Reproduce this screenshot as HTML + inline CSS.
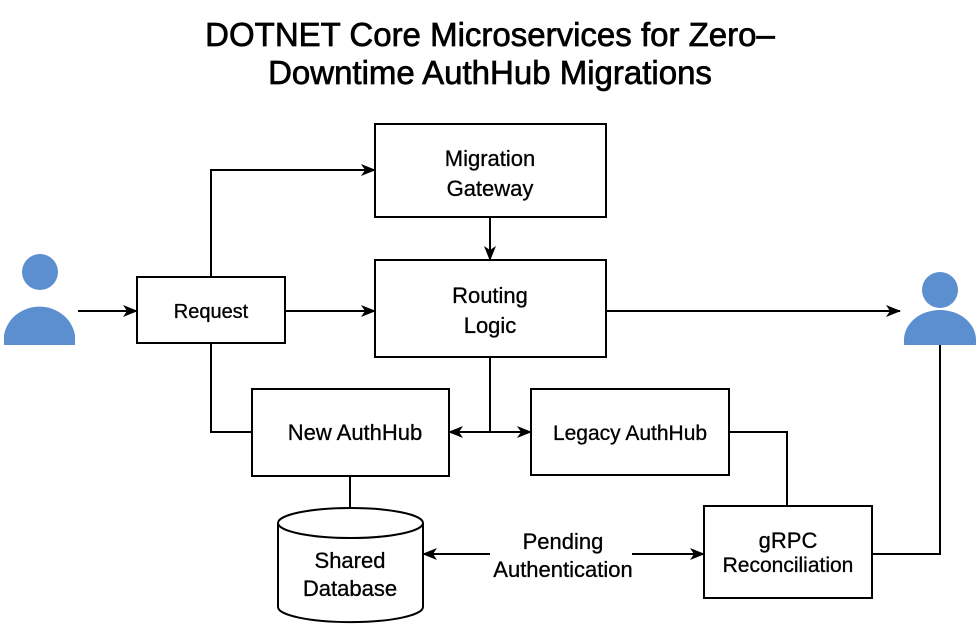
<!DOCTYPE html>
<html><head><style>
body{margin:0;background:#fff;}
svg{display:block;font-family:"Liberation Sans",sans-serif;}
</style></head><body>
<svg width="980" height="627" viewBox="0 0 980 627" xmlns="http://www.w3.org/2000/svg">
<defs><marker id="a" markerWidth="15" markerHeight="12" refX="14" refY="6" orient="auto" markerUnits="userSpaceOnUse"><path d="M0,0 L15,6 L0,12 L4,6 z" fill="#000"/></marker></defs>
<g stroke="#000" stroke-width="0.7">
<text x="490" y="46" font-size="33" text-anchor="middle">DOTNET Core Microservices for Zero–</text>
<text x="490" y="84" font-size="33" text-anchor="middle">Downtime AuthHub Migrations</text>
</g>
<g fill="none" stroke="#000" stroke-width="2">
<rect x="375" y="124" width="231" height="93"/>
<rect x="137" y="277" width="148" height="66"/>
<rect x="375" y="260" width="231" height="97"/>
<rect x="252" y="389" width="197" height="87"/>
<rect x="531" y="389" width="198" height="86"/>
<rect x="704" y="506" width="168" height="92"/>
<path d="M278,523 L278,607 A72,15 0 0 0 423,607 L423,523"/>
<ellipse cx="350.5" cy="523" rx="72.5" ry="15" fill="#fff"/>
<line x1="78" y1="311" x2="137" y2="311" marker-end="url(#a)"/>
<polyline points="211,277 211,170 375,170" marker-end="url(#a)"/>
<line x1="490" y1="217" x2="490" y2="260" marker-end="url(#a)"/>
<line x1="285" y1="311" x2="375" y2="311" marker-end="url(#a)"/>
<line x1="606" y1="311" x2="900" y2="311" marker-end="url(#a)"/>
<polyline points="211,343 211,432 252,432"/>
<line x1="490" y1="357" x2="490" y2="432"/>
<line x1="490" y1="432" x2="449" y2="432" marker-end="url(#a)"/>
<line x1="490" y1="432" x2="531" y2="432" marker-end="url(#a)"/>
<polyline points="729,432 787,432 787,506"/>
<polyline points="872,554 940,554 940,345"/>
<line x1="350" y1="476" x2="350" y2="508"/>
<line x1="490" y1="554" x2="423" y2="554" marker-end="url(#a)"/>
<line x1="632" y1="554" x2="704" y2="554" marker-end="url(#a)"/>
</g>
<g fill="#5b8fcf">
<circle cx="40" cy="272" r="18"/>
<path d="M4,345 L4,335 A36,34 0 0 1 75,335 L75,345 z"/>
<circle cx="940" cy="290" r="18"/>
<path d="M904,345 L904,340 A36,30 0 0 1 976,340 L976,345 z"/>
</g>
<g font-size="22" text-anchor="middle" fill="#000" stroke="#000" stroke-width="0.3">
<text x="490" y="166">Migration</text><text x="490" y="196">Gateway</text>
<text x="211" y="318" font-size="20">Request</text>
<text x="490" y="303">Routing</text><text x="490" y="333">Logic</text>
<text x="355" y="440">New AuthHub</text>
<text x="630" y="440" font-size="21">Legacy AuthHub</text>
<text x="788" y="548">gRPC</text><text x="788" y="572" font-size="21">Reconciliation</text>
<text x="350" y="568">Shared</text><text x="350" y="596">Database</text>
<text x="563" y="549">Pending</text><text x="563" y="577">Authentication</text>
</g>
</svg>
</body></html>
